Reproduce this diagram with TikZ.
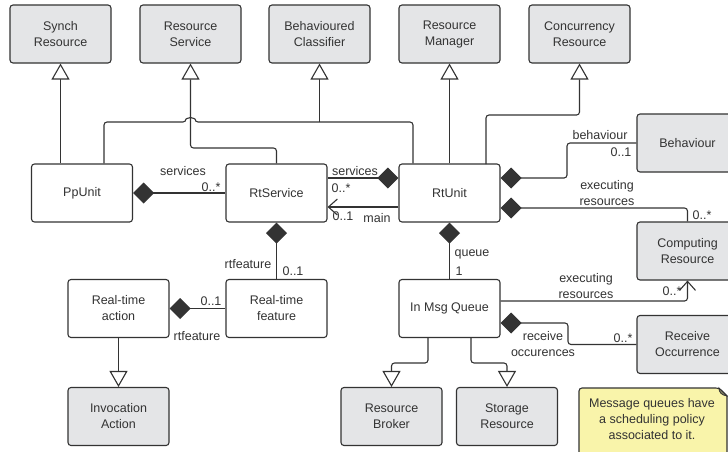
\documentclass[tikz,border=0pt]{standalone}
\usepackage{fontspec}
\setmainfont{Liberation Sans}
\usetikzlibrary{arrows.meta}
\definecolor{ln}{HTML}{333333}
\definecolor{gfill}{HTML}{E4E5E7}
\definecolor{nfill}{HTML}{F9F4AA}
\begin{document}
\begin{tikzpicture}[x=1pt,y=-1pt,
  font=\fontsize{12.5}{16}\selectfont,
  box/.style={draw=ln, line width=1.1pt, rounded corners=3pt, minimum width=101pt, minimum height=58pt, align=center, text=ln, inner sep=0pt},
  gbox/.style={box, fill=gfill},
  wbox/.style={box, fill=white},
  conn/.style={draw=ln, line width=1.1pt, rounded corners=3pt},
  comp/.style={conn, {Diamond[length=21pt,width=21pt,fill=ln]}-},
  gen/.style={conn, -{Triangle[length=16pt,width=18pt,fill=white]}},
  nav/.style={conn, -{Straight Barb[length=9pt,width=16pt]}},
  lbl/.style={text=ln, inner sep=0pt, align=center}]
\useasboundingbox (0,0) rectangle (728,451);
\clip (0,0) rectangle (728,451);
\fill[white] (0,0) rectangle (728,451);

% top row
\node[gbox] (synch)   at (60.5,34)  {Synch\\Resource};
\node[gbox] (resserv) at (190.5,34) {Resource\\Service};
\node[gbox] (behcl)   at (319.5,34) {Behavioured\\Classifier};
\node[gbox] (resman)  at (449.5,34) {Resource\\Manager};
\node[gbox] (concur)  at (579.5,34) {Concurrency\\Resource};

% middle
\node[wbox] (ppunit)  at (82,193)    {PpUnit};
\node[wbox] (rtserv)  at (276.5,193) {RtService};
\node[wbox] (rtunit)  at (449.5,193) {RtUnit};
\node[gbox] (behav)   at (687.5,143) {Behaviour};
\node[gbox] (compres) at (687.5,251) {Computing\\Resource};
\node[gbox] (recocc)  at (687.5,344.5) {Receive\\Occurrence};
\node[wbox] (imq)     at (449.5,308.5) {In Msg Queue};
\node[wbox] (rtact)   at (118.5,308.5) {Real-time\\action};
\node[wbox] (rtfeat)  at (276.5,308.5) {Real-time\\feature};

% bottom
\node[gbox] (invoc)   at (118.5,416.5) {Invocation\\Action};
\node[gbox] (broker)  at (391.5,416.5) {Resource\\Broker};
\node[gbox] (storage) at (507,416.5)   {Storage\\Resource};

% note
\draw[draw=ln, fill=nfill, line width=1.1pt, rounded corners=3pt]
  (579,460) -- (579,388) -- (719,388) [sharp corners] -- (727,396) [rounded corners=3pt] -- (727,460) -- cycle;
\draw[draw=ln, fill=ln!60!nfill, line width=0.8pt] (719,388) .. controls (719,392) and (721,395) .. (727,396) -- cycle;
\node[lbl] (note) at (652,419) {Message queues have\\a scheduling policy\\associated to it.};

% coordinates
\coordinate (c1) at (104,122);
\coordinate (c2) at (413,122);

% generalisations
\draw[gen] (ppunit.north -| synch.south) -- (synch.south);
\draw[gen] (rtserv.north) -- (276.5,148) -- (190.5,148) -- (resserv.south);
\draw[conn] (ppunit.north -| c1) -- (c1) -- (186,122) arc[start angle=180,end angle=360,radius=4.5] -- (c2) -- (rtunit.north -| c2);
\draw[gen] (behcl.south |- c1) -- (behcl.south);
\draw[gen] (rtunit.north) -- (resman.south);
\draw[gen] (486,164) -- (486,115) -- (579.5,115) -- (concur.south);
\draw[gen] (rtact.south) -- (invoc.north);
\draw[gen] (imq.south -| 428,0) -- (428,363) -- (391.5,363) -- (broker.north);
\draw[gen] (imq.south -| 471,0) -- (471,363) -- (507,363) -- (storage.north);

% compositions
\draw[comp] (ppunit.east) -- (rtserv.west);
\draw[comp] (rtunit.west |- 0,178) -- (rtserv.east |- 0,178);
\draw[nav] (rtunit.west |- 0,207) -- (rtserv.east |- 0,207);
\draw[comp] (rtunit.east |- 0,178) -- (567,178) -- (567,143) -- (behav.west);
\draw[comp] (rtunit.east |- 0,208) -- (687.5,208) -- (compres.north);
\draw[comp] (rtserv.south) -- (rtfeat.north);
\draw[comp] (rtact.east) -- (rtfeat.west);
\draw[comp] (rtunit.south) -- (imq.north);
\draw[nav] (imq.east |- 0,301) -- (687.5,301) -- (compres.south);
\draw[comp] (imq.east |- 0,323) -- (568,323) -- (568,344.5) -- (recocc.west);

% labels
\node[lbl] (l1)  at (183,171) {services};
\node[lbl] (l2)  at (211,187) {0..*};
\node[lbl] (l3)  at (355,171) {services};
\node[lbl] (l4)  at (341,188) {0..*};
\node[lbl] (l5)  at (377,218) {main};
\node[lbl] (l6)  at (343,216) {0..1};
\node[lbl] (l7)  at (600,135) {behaviour};
\node[lbl] (l8)  at (621,152) {0..1};
\node[lbl] (l9)  at (607,193) {executing\\resources};
\node[lbl] (l10) at (702,215) {0..*};
\node[lbl] (l11) at (248,264) {rtfeature};
\node[lbl] (l12) at (293,271) {0..1};
\node[lbl] (l13) at (211,301) {0..1};
\node[lbl] (l14) at (197,336) {rtfeature};
\node[lbl] (l15) at (472,254) {queue};
\node[lbl] (l16) at (459,271) {1};
\node[lbl] (l17) at (586,286) {executing\\resources};
\node[lbl] (l18) at (672,291) {0..*};
\node[lbl] (l19) at (543,344) {receive\\occurences};
\node[lbl] (l20) at (623,338) {0..*};
\end{tikzpicture}
\end{document}
